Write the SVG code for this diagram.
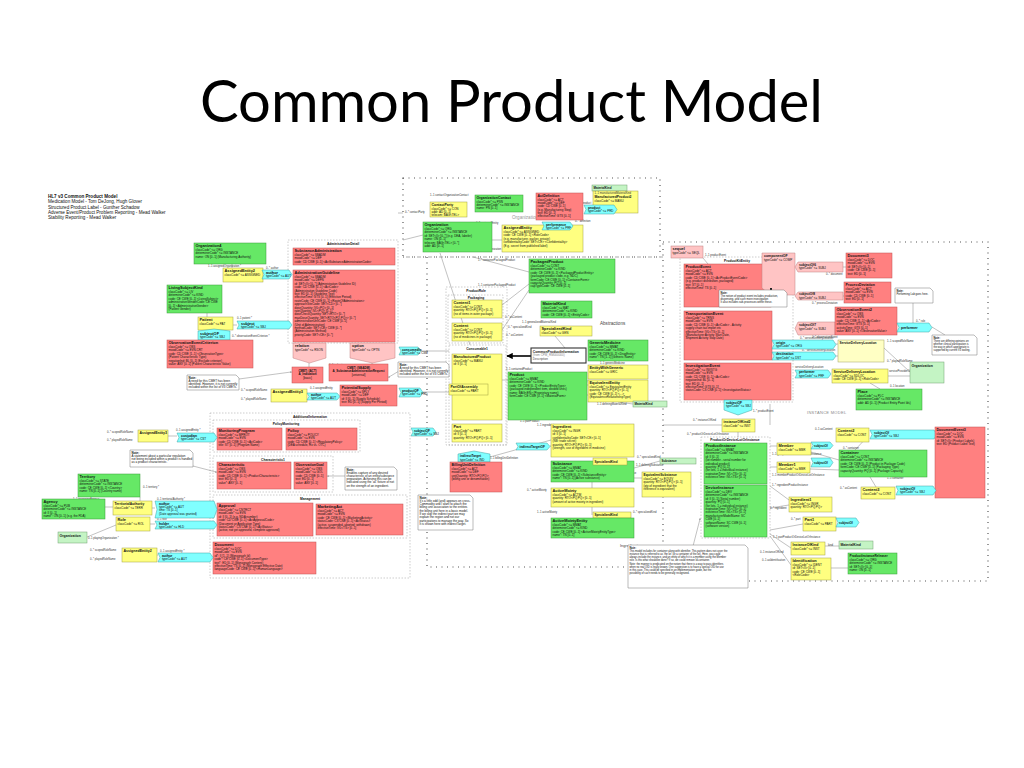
<svg xmlns="http://www.w3.org/2000/svg" width="1024" height="768" viewBox="0 0 1024 768">
<style>
text{font-family:"Liberation Sans",Arial,sans-serif;fill:#111}
.t{font-size:3px}
.h{font-size:3.9px;font-weight:bold}
.l{font-size:2.7px;fill:#333}
.r{fill:#ff8080;stroke:#c05050;stroke-width:.5}
.g{fill:#66e866;stroke:#3a9a3a;stroke-width:.5}
.y{fill:#ffff80;stroke:#a0a040;stroke-width:.5}
.c{fill:#80ffff;stroke:#40a0a0;stroke-width:.5}
.p{fill:#ffc4c4;stroke:#c08080;stroke-width:.5}
.lg{fill:#c4f4c4;stroke:#70a070;stroke-width:.5}
.ly{fill:#ffffc4;stroke:#a0a060;stroke-width:.5}
.n{fill:#fff;stroke:#777;stroke-width:.5}
.box{fill:none;stroke:#999;stroke-width:.5;stroke-dasharray:1.5 1.5}
.dot{fill:none;stroke:#555;stroke-width:1.2;stroke-dasharray:1 4.5}
.k{fill:none;stroke:#777;stroke-width:.45}
.ct{font-size:3.3px;font-weight:bold;text-anchor:middle}
.fade{fill:#9a9a9a;font-size:5px}
</style>
<defs>
<marker id="dotm" viewBox="0 0 4 4" refX="2" refY="2" markerWidth="3" markerHeight="3"><circle cx="2" cy="2" r="1.6" fill="#222"/></marker>
<marker id="arr" viewBox="0 0 10 10" refX="9" refY="5" markerWidth="4" markerHeight="4" orient="auto"><path d="M0,0L10,5L0,10z" fill="#000"/></marker>
</defs>
<rect width="1024" height="768" fill="#fff"/>

<text x="200" y="122" font-family="Lato,'Open Sans',sans-serif" font-size="58" textLength="623" lengthAdjust="spacingAndGlyphs" style="font-family:Lato,'Open Sans',sans-serif;fill:#000">Common Product Model</text>

<g id="header">
<text x="48" y="198" style="font-size:4.6px;font-weight:bold">HL7 v3 Common Product  Model</text>
<text x="48" y="203.3" style="font-size:4.6px">Medication Model - Tom DeJong, Hugh Glover</text>
<text x="48" y="208.6" style="font-size:4.6px">Structured Product Label - Gunther Schadow</text>
<text x="48" y="213.9" style="font-size:4.6px">Adverse Event/Product Problem Reporting - Mead Walker</text>
<text x="48" y="219.2" style="font-size:4.6px">Stability Reporting - Mead Walker</text>
</g>

<!-- containers -->
<g id="containers">
<rect class="dot" x="403" y="178" width="257" height="79"/>
<path class="dot" d="M427 257V567H663M403 257H663M663 242H988V581H663V242"/>
<rect class="box" x="288" y="240" width="110" height="103"/>
<text class="ct" x="343" y="245">AdministrationDetail</text>
<rect class="box" x="446" y="287" width="61" height="158"/>
<text class="ct" x="476" y="292">ProductRole</text>
<rect class="box" x="448" y="295" width="55" height="48"/>
<text class="ct" x="476" y="299">Packaging</text>
<rect class="box" x="449" y="345" width="57" height="100"/>
<text class="ct" x="477" y="350">Consumable1</text>
<rect class="box" x="210" y="413" width="200" height="165"/>
<text class="ct" x="310" y="417.5">AdditionalInformation</text>
<rect class="box" x="213" y="420" width="147" height="32"/>
<text class="ct" x="286" y="425">PolicyMonitoring</text>
<rect class="box" x="213" y="456" width="120" height="36"/>
<text class="ct" x="273" y="460.5">Characteristic1</text>
<rect class="box" x="213" y="495" width="194" height="43"/>
<text class="ct" x="310" y="499.5">Management</text>
<rect class="box" x="680" y="257" width="113" height="145"/>
<text class="ct" x="737" y="261.5">ProductKitEntity</text>
<rect class="box" x="701" y="437" width="69" height="101"/>
<text class="ct" x="735" y="441">ProductOrDeviceLotOrInstance</text>
<text class="fade" x="512" y="219" style="font-size:4.6px">Organization</text>
<text x="600" y="325" style="font-size:4.6px;fill:#444">Abstractions</text>
<text class="fade" x="519" y="412" style="font-size:5px;fill:#7aa07a">Product Kind Model</text>
<text x="807" y="414" style="font-size:4px;fill:#888;letter-spacing:.3px">INSTANCE MODEL</text>
<text x="620" y="547" style="font-size:4px;fill:#444">Ingredients</text>
</g>

<!-- connectors -->
<g id="connectors">
<path class="k" d="M232 264V268M207 313V317M233 325H237M214 330V340M309 363V367M372 363V364M421 351H449M423 392H449M473 257L529 272M502 305L529 284M502 330L529 290M555 336L565 348M440 253L470 345M502 380H508M587 385H588M587 395H588M618 402L633 404M550 446H551M490 457L551 440M593 465L592 461M634 468L660 461M634 478H642M592 482V488M592 507V515M613 518L613 515"/>
<path class="k" d="M140 497V501M105 507H113M116 525L87 537M152 508H155M150 524H155M168 436H177M157 555H158M403 213H398M423 235L403 240M492 240H502"/>
<path class="k" d="M703 258L708 264M771 270L762 272M843 267H846M843 296H844M913 303V323M932 327L945 335M836 344H838M836 356H838M884 348L910 372M888 376H910M870 383L880 389M738 400V415M738 432V437M663 425H722M770 446H777M770 467H777M811 452L839 460M810 469L839 470M869 435L855 450M870 477L876 487M770 486L789 500M770 508L789 505M770 530L803 524M770 534L791 548M770 536L791 565M825 546H839M831 568H848M770 404L770 425"/>
<path d="M531 356H507" stroke="#000" stroke-width="1.6" marker-end="url(#arr)"/>
<path class="k" d="M239 379L291 372" marker-end="url(#dotm)"/>
<path class="k" d="M193 466L216 472" marker-end="url(#dotm)"/>
<path class="k" d="M345 476H328" marker-end="url(#dotm)"/>
<path class="k" d="M399 371L389 377" marker-end="url(#dotm)"/>
<path class="k" d="M692 550L700 519" marker-end="url(#dotm)"/>
<text class="l" x="208" y="266.5">1..1 assignedOrganization *</text>
<text class="l" x="266" y="268.5">0..* author</text>
<text class="l" x="237" y="319">0..1 patient *</text>
<text class="l" x="232" y="337">0..* observationEventCriterion *</text>
<text class="l" x="329" y="366">0..1 indication</text>
<text class="l" x="241" y="391">0..* scopedRoleName</text>
<text class="l" x="241" y="400">0..* playedRoleName</text>
<text class="l" x="310" y="389">0..1 assignedEntity</text>
<text class="l" x="107" y="433">0..* scopedRoleName</text>
<text class="l" x="107" y="441">0..* playedRoleName</text>
<text class="l" x="176" y="431">0..1 assignedEntity *</text>
<text class="l" x="143" y="488">0..1 territory *</text>
<text class="l" x="73" y="500">1..1 governingAgency</text>
<text class="l" x="157" y="499.5">0..1 territorialAuthority *</text>
<text class="l" x="157" y="520">0..1 role</text>
<text class="l" x="88" y="539">0..1 playingOrganization *</text>
<text class="l" x="90" y="551">0..* scopedRoleName</text>
<text class="l" x="90" y="560">0..* playedRoleName</text>
<text class="l" x="160" y="551.5">0..1 assignedEntity *</text>
<text class="l" x="430" y="196">1..1 contactOrganizationContact</text>
<text class="l" x="405" y="213">0..* contactParty</text>
<text class="l" x="476" y="224">0..* assignedEntity</text>
<text class="l" x="470" y="250">1..1 assignedOrganization</text>
<text class="l" x="577" y="204">0..1 product</text>
<text class="l" x="575" y="221.5">0..* definition</text>
<text class="l" x="478" y="261">1..* containerPackagedProduct</text>
<text class="l" x="478" y="286">1..1 containerPackagedProduct</text>
<text class="l" x="505" y="318">0..* asContent</text>
<text class="l" x="522" y="323">1..1 generalizedMaterialKind</text>
<text class="l" x="508" y="328">0..* specializedKind</text>
<text class="l" x="506" y="336">0..* asContent</text>
<text class="l" x="506" y="370">1..1 containedProduct</text>
<text class="l" x="470" y="400">0..* asPartOfAssembly</text>
<text class="l" x="478" y="407">1..1 wholeProduct</text>
<text class="l" x="557" y="376">1..1 asSpecializedKind</text>
<text class="l" x="560" y="382">0..1 asEquivalentEntity</text>
<text class="l" x="600" y="363.5">1..1 genericMedicine</text>
<text class="l" x="597" y="405">1..1 definingMaterialKind</text>
<text class="l" x="520" y="422">1..1 partProduct</text>
<text class="l" x="537" y="426">1..1 ingredient</text>
<text class="l" x="490" y="459">1..1 billingUnitDefinition</text>
<text class="l" x="637" y="458">0..* specializedKind</text>
<text class="l" x="636" y="466">1..1 definingSubstance</text>
<text class="l" x="603" y="474">1..1 asEquivalentSubstance</text>
<text class="l" x="527" y="491">0..* activeMoiety</text>
<text class="l" x="537" y="513">1..1 activeMoiety</text>
<text class="l" x="633" y="513">0..* specializedKind</text>
<text class="l" x="705" y="256">1..1 productEvent</text>
<text class="l" x="826" y="275">0..* document</text>
<text class="l" x="812" y="304">0..* processDeviation</text>
<text class="l" x="812" y="337.5">0..* observationEvent</text>
<text class="l" x="916" y="321.5">0..* role</text>
<text class="l" x="800" y="338.5">0..* serviceDeliveryLocation</text>
<text class="l" x="802" y="350.5">0..* serviceDeliveryLocation</text>
<text class="l" x="887" y="342">1..1 scopedRoleName</text>
<text class="l" x="887" y="362">0..* playedRoleName</text>
<text class="l" x="795" y="368">serviceDeliveryLocation</text>
<text class="l" x="889" y="372">serviceProviderOrg</text>
<text class="l" x="890" y="387">0..1 location</text>
<text class="l" x="753" y="411.5">1..* productEvent</text>
<text class="l" x="693" y="421">0..* instanceOfKind</text>
<text class="l" x="687" y="435">0..* productOrDeviceLotOrInstance</text>
<text class="l" x="815" y="430">0..1 asContent</text>
<text class="l" x="772" y="455">1..1 groupProductOrDeviceLotOrInstance</text>
<text class="l" x="772" y="476">1..1 memberProductOrDeviceLotOrInstance</text>
<text class="l" x="843" y="449">0..* container</text>
<text class="l" x="887" y="479">1..1 container</text>
<text class="l" x="840" y="489">0..* asContent</text>
<text class="l" x="772" y="486">1..* ingredientProductInstance</text>
<text class="l" x="770" y="509">0..* ingredient</text>
<text class="l" x="791" y="520">0..* part</text>
<text class="l" x="773" y="538">1..1 partProductOrDeviceLotOrInstance</text>
<text class="l" x="760" y="553">0..1 instanceOfKind</text>
<text class="l" x="762" y="560.5">0..1 asIdentification</text>
<text class="l" x="828" y="546">kind</text>
</g>

<!-- LEFT / ADMINISTRATION -->
<g id="organization4"><rect class="g" x="194" y="243" width="72" height="21"/><text class="t" x="195.5" y="247.3"><tspan class="h">Organization4</tspan><tspan x="195.5" dy="3.6">classCode* &lt;= ORG</tspan><tspan x="195.5" dy="3.4">determinerCode* &lt;= INSTANCE</tspan><tspan x="195.5" dy="3.4">name: ON [0..1] (Manufacturing Authority)</tspan></text></g>
<g id="assignedEntity2a"><rect class="y" x="223" y="268" width="40" height="14"/><text class="t" x="224.5" y="272.3"><tspan class="h">AssignedEntity2</tspan><tspan x="224.5" dy="3.6">classCode* &lt;= ASSIGNED</tspan></text></g>
<g id="author1"><polygon class="c" points="262,270 289,270 292,274.5 289,279 262,279 264,274.5"/><text class="t" x="266" y="273.8"><tspan class="h">author</tspan><tspan x="266" dy="3.4">typeCode* &lt;= AUT</tspan></text></g>
<g id="substanceAdministration"><rect class="r" x="293" y="248" width="102" height="17"/><text class="t" x="294.5" y="252.3"><tspan class="h">SubstanceAdministration</tspan><tspan x="294.5" dy="3.6">classCode* &lt;= SBADM</tspan><tspan x="294.5" dy="3.4">moodCode* &lt;= DEF</tspan><tspan x="294.5" dy="3.4">code: CD CWE [0..1] &lt;ActSubstanceAdministrationCode&gt;</tspan></text></g>
<g id="administrationGuideline"><rect class="r" x="293" y="270" width="102" height="72"/><text class="t" x="294.5" y="274.3"><tspan class="h">AdministrationGuideline</tspan><tspan x="294.5" dy="3.6">classCode* &lt;= SBADM</tspan><tspan x="294.5" dy="3.4">moodCode* &lt;= DEFN</tspan><tspan x="294.5" dy="3.4">id: SET&lt;II&gt; [0..*] (Administration Guideline ID)</tspan><tspan x="294.5" dy="3.4">code: CD CWE [0..1] &lt;ActCode&gt;</tspan><tspan x="294.5" dy="3.4">(Administration Guideline Code)</tspan><tspan x="294.5" dy="3.4">text: ED [0..1] (Guideline Text)</tspan><tspan x="294.5" dy="3.4">effectiveTime: GTS [0..1] (Effective Period)</tspan><tspan x="294.5" dy="3.4">routeCode: CE CWE [0..1] &lt;RouteOfAdministration&gt;</tspan><tspan x="294.5" dy="3.4">approachSiteCode: SET&lt;CD&gt; [0..*]</tspan><tspan x="294.5" dy="3.4">doseQuantity: IVL&lt;PQ&gt; [0..1]</tspan><tspan x="294.5" dy="3.4">rateQuantity: IVL&lt;PQ&gt; [0..1]</tspan><tspan x="294.5" dy="3.4">doseCheckQuantity: SET&lt;RTO&gt; [0..*]</tspan><tspan x="294.5" dy="3.4">maxDoseQuantity: SET&lt;RTO&lt;PQ,PQ&gt;&gt; [0..*]</tspan><tspan x="294.5" dy="3.4">administrationUnitCode: CE CWE [0..1]</tspan><tspan x="294.5" dy="3.4">(Unit of Administration)</tspan><tspan x="294.5" dy="3.4">methodCode: SET&lt;CE&gt; CWE [0..*]</tspan><tspan x="294.5" dy="3.4">(Administration Method)</tspan><tspan x="294.5" dy="3.4">priorityCode: SET&lt;CE&gt; [0..*]</tspan></text></g>
<g id="livingSubjectKind"><rect class="g" x="167" y="285" width="55" height="28"/><text class="t" x="168.5" y="289.3"><tspan class="h">LivingSubjectKind</tspan><tspan x="168.5" dy="3.6">classCode* &lt;= LIV</tspan><tspan x="168.5" dy="3.4">determinerCode* &lt;= KIND</tspan><tspan x="168.5" dy="3.4">code: CE CWE [0..1] &lt;LivingSubject&gt;</tspan><tspan x="168.5" dy="3.4">administrativeGenderCode: CE CWE</tspan><tspan x="168.5" dy="3.4">[0..1] &lt;AdministrativeGender&gt;</tspan><tspan x="168.5" dy="3.4">(Patient Gender)</tspan></text></g>
<g id="patient"><rect class="y" x="198" y="317" width="35" height="13"/><text class="t" x="199.5" y="321.3"><tspan class="h">Patient</tspan><tspan x="199.5" dy="3.6">classCode* &lt;= PAT</tspan></text></g>
<g id="subject1"><polygon class="c" points="237,321 289,321 292,325 289,329 237,329 239,325"/><text class="t" x="241" y="324.5"><tspan class="h">subject</tspan><tspan x="241" dy="3.3">typeCode* &lt;= SBJ</tspan></text></g>
<g id="subjectOF1"><polygon class="c" points="198,331 214,329 230,331 230,340 198,340"/><text class="t" x="200" y="334.5"><tspan class="h">subjectOF</tspan><tspan x="200" dy="3.5">typeCode* &lt;= SBJ</tspan></text></g>
<g id="observationEventCriterion"><rect class="r" x="167" y="340" width="86" height="28"/><text class="t" x="168.5" y="344.3"><tspan class="h">ObservationEventCriterion</tspan><tspan x="168.5" dy="3.6">classCode* &lt;= OBS</tspan><tspan x="168.5" dy="3.4">moodCode* &lt;= EVN.CRT</tspan><tspan x="168.5" dy="3.4">code: CD CWE [1..1] &lt;ObservationType&gt;</tspan><tspan x="168.5" dy="3.4">(Patient Characteristic Type)</tspan><tspan x="168.5" dy="3.4">negationInd: BL [0..1] (Exclude criterion)</tspan><tspan x="168.5" dy="3.4">value: ANY [0..1] (Patient Characteristic Value)</tspan></text></g>
<g id="relation"><polygon class="p" points="293,343 326,343 326,358 309.5,363 293,358"/><text class="t" x="295" y="347.3"><tspan class="h">relation</tspan><tspan x="295" dy="3.6">typeCode* &lt;= RSON</tspan></text></g>
<g id="option"><polygon class="p" points="350,343 395,343 395,358 372.5,363 350,358"/><text class="t" x="352" y="347.3"><tspan class="h">option</tspan><tspan x="352" dy="3.6">typeCode* &lt;= OPTN</tspan></text></g>
<g id="cmetIndication"><rect class="r" x="292" y="367" width="31" height="16"/><text class="t" x="307.5" y="371.5" text-anchor="middle"><tspan style="font-weight:bold">CMET: (ACT)</tspan><tspan x="307.5" dy="3.5" style="font-weight:bold">A_Indication</tspan><tspan x="307.5" dy="3.5">[basic]</tspan></text></g>
<g id="cmetRequest"><rect class="r" x="329" y="364" width="59" height="17"/><text class="t" x="358.5" y="368.5" text-anchor="middle"><tspan style="font-weight:bold">CMET: (SBADM)</tspan><tspan x="358.5" dy="3.5" style="font-weight:bold">A_SubstanceAdministrationRequest</tspan><tspan x="358.5" dy="3.5">[universal]</tspan></text></g>
<g id="note1"><path class="n" d="M187 375H236L239 378V390H187Z"/><text class="t" x="188.5" y="378.5"><tspan style="font-weight:bold">Note:</tspan><tspan x="188.5" dy="3.3">A need for this CMET has been</tspan><tspan x="188.5" dy="3.3">identified. However, it is not currently</tspan><tspan x="188.5" dy="3.3">included within the list of V3 CMETs.</tspan></text></g>
<g id="assignedEntity3a"><rect class="y" x="271" y="389" width="36" height="13"/><text class="t" x="272.5" y="393.3"><tspan class="h">AssignedEntity3</tspan></text></g>
<g id="author2"><polygon class="c" points="307,393 337,393 340,396.5 337,400 307,400 309,396.5"/><text class="t" x="311" y="396"><tspan class="h" style="font-size:3.3px">author</tspan><tspan x="311" dy="3.1">typeCode* &lt;= AUT</tspan></text></g>
<g id="potentialSupply"><rect class="r" x="340" y="385" width="57" height="21"/><text class="t" x="341.5" y="389.3"><tspan class="h">PotentialSupply</tspan><tspan x="341.5" dy="3.6">classCode* &lt;= SPLY</tspan><tspan x="341.5" dy="3.4">moodCode* &lt;= DEF</tspan><tspan x="341.5" dy="3.4">id: II [0..1] (Supply Schedule)</tspan><tspan x="341.5" dy="3.4">text: ED [0..1] (Supply Per Period)</tspan></text></g>
<g id="consumedIn"><polygon class="c" points="399,347 418,347 421,351 418,355 399,355 401,351"/><text class="t" x="402" y="350.5"><tspan class="h" style="font-size:3.3px">consumedIn</tspan><tspan x="402" dy="3.2">typeCode* &lt;= CSM</tspan></text></g>
<g id="note2"><path class="n" d="M398 362H446L449 365V377H398Z"/><text class="t" x="399.5" y="365.5"><tspan style="font-weight:bold">Note:</tspan><tspan x="399.5" dy="3.3">A need for this CMET has been</tspan><tspan x="399.5" dy="3.3">identified. However, it is not currently</tspan><tspan x="399.5" dy="3.3">included within the list of V3 CMETs.</tspan></text></g>
<g id="productOF"><polygon class="c" points="399,388 420,388 423,392.5 420,397 399,397 401,392.5"/><text class="t" x="402" y="391.5"><tspan class="h" style="font-size:3.3px">productOF</tspan><tspan x="402" dy="3.3">typeCode* &lt;= PRD</tspan></text></g>
<g id="subjectOF2"><polygon class="c" points="411,428 433,428 436,432 433,436 411,436 413,432"/><text class="t" x="414" y="431.5"><tspan class="h" style="font-size:3.3px">subjectOF</tspan><tspan x="414" dy="3.3">typeCode* &lt;= SBJ</tspan></text></g>

<!-- ADDITIONAL INFORMATION -->
<g id="monitoringProgram"><rect class="r" x="217" y="428" width="65" height="22"/><text class="t" x="218.5" y="432.3"><tspan class="h">MonitoringProgram</tspan><tspan x="218.5" dy="3.6">classCode* &lt;= MPROT</tspan><tspan x="218.5" dy="3.4">moodCode* &lt;= EVN</tspan><tspan x="218.5" dy="3.4">code: CD CWE [0..1] &lt;ActCode&gt;</tspan><tspan x="218.5" dy="3.4">title: ST [0..1] (Program Name)</tspan></text></g>
<g id="policy"><rect class="r" x="286" y="428" width="71" height="22"/><text class="t" x="287.5" y="432.3"><tspan class="h">Policy</tspan><tspan x="287.5" dy="3.6">classCode* &lt;= POLICY</tspan><tspan x="287.5" dy="3.4">moodCode* &lt;= EVN</tspan><tspan x="287.5" dy="3.4">code: CD CWE [0..1] &lt;RegulatoryPolicy&gt;</tspan><tspan x="287.5" dy="3.4">(DEA schedule, Rx vs. OTC)</tspan></text></g>
<g id="assignedEntity3b"><rect class="y" x="138" y="430" width="30" height="12"/><text class="t" x="139.5" y="434.3"><tspan class="h" style="font-size:3.5px">AssignedEntity3</tspan></text></g>
<g id="custodian"><polygon class="c" points="177,433 214,433 217,437.5 214,442 177,442 179,437.5"/><text class="t" x="181" y="436.5"><tspan class="h" style="font-size:3.4px">custodian</tspan><tspan x="181" dy="3.4">typeCode* &lt;= CST</tspan></text></g>
<g id="note3"><path class="n" d="M130 450H190L193 453V467H130Z"/><text class="t" x="131.5" y="453.5"><tspan style="font-weight:bold">Note:</tspan><tspan x="131.5" dy="3.3">A statement about a particular regulation</tspan><tspan x="131.5" dy="3.3">not being included within a product is handled</tspan><tspan x="131.5" dy="3.3">as a product characteristic.</tspan></text></g>
<g id="characteristic"><rect class="r" x="217" y="462" width="74" height="27"/><text class="t" x="218.5" y="466.3"><tspan class="h">Characteristic</tspan><tspan x="218.5" dy="3.6">classCode* &lt;= OBS</tspan><tspan x="218.5" dy="3.4">moodCode* &lt;= EVN</tspan><tspan x="218.5" dy="3.4">code: CD CWE [0..1] &lt;ProductCharacteristic&gt;</tspan><tspan x="218.5" dy="3.4">text: ED [0..1]</tspan><tspan x="218.5" dy="3.4">value*: ANY [0..1]</tspan></text></g>
<g id="observationGoal"><rect class="r" x="294" y="462" width="33" height="27"/><text class="t" x="295.5" y="466.3"><tspan class="h" style="font-size:3.5px">ObservationGoal</tspan><tspan x="295.5" dy="3.6">classCode* &lt;= OBS</tspan><tspan x="295.5" dy="3.4">moodCode* &lt;= GOL</tspan><tspan x="295.5" dy="3.4">code: CD CWE [0..1]</tspan><tspan x="295.5" dy="3.4">text: ED [0..1]</tspan><tspan x="295.5" dy="3.4">value: ANY [0..1]</tspan></text></g>
<g id="note4"><path class="n" d="M345 467H394L397 470V490H345Z"/><text class="t" x="346.5" y="470.5"><tspan style="font-weight:bold">Note:</tspan><tspan x="346.5" dy="3.2">Enables capture of any desired</tspan><tspan x="346.5" dy="3.2">characteristic of an entity/substance</tspan><tspan x="346.5" dy="3.2">preparation. Achieving this can be</tspan><tspan x="346.5" dy="3.2">indicated using the 'as' fixture of not</tspan><tspan x="346.5" dy="3.2">on the strength of an ingredient.</tspan></text></g>
<g id="approval"><rect class="r" x="217" y="503" width="96" height="33"/><text class="t" x="218.5" y="507.3"><tspan class="h">Approval</tspan><tspan x="218.5" dy="3.6">classCode* &lt;= CNTRCT</tspan><tspan x="218.5" dy="3.4">moodCode* &lt;= EVN</tspan><tspan x="218.5" dy="3.4">id: II [0..1] (e.g. NDA number)</tspan><tspan x="218.5" dy="3.4">code: CD CWE [0..1] &lt;ActApprovalCode&gt;</tspan><tspan x="218.5" dy="3.4">(Document or Application Type)</tspan><tspan x="218.5" dy="3.4">statusCode*: CS CNE [0..1] &lt;ActStatus&gt;</tspan><tspan x="218.5" dy="3.4">(active, not yet approved, complete approved)</tspan></text></g>
<g id="marketingAct"><rect class="r" x="316" y="504" width="87" height="31"/><text class="t" x="317.5" y="508.3"><tspan class="h">MarketingAct</tspan><tspan x="317.5" dy="3.6">classCode* &lt;= ACT</tspan><tspan x="317.5" dy="3.4">moodCode* &lt;= EVN</tspan><tspan x="317.5" dy="3.4">code: CE CWE [0..1] &lt;MarketingActivity&gt;</tspan><tspan x="317.5" dy="3.4">statusCode: CS CNE [0..1] &lt;ActStatus&gt;</tspan><tspan x="317.5" dy="3.4">(active, suspended, aborted: withdrawn)</tspan><tspan x="317.5" dy="3.4">effectiveTime: IVL&lt;TS&gt; [0..1]</tspan></text></g>
<g id="document"><rect class="r" x="213" y="542" width="103" height="32"/><text class="t" x="214.5" y="546.3"><tspan class="h">Document</tspan><tspan x="214.5" dy="3.6">classCode* &lt;= DOC</tspan><tspan x="214.5" dy="3.4">moodCode* &lt;= EVN</tspan><tspan x="214.5" dy="3.4">id*: II [1..1] (Monograph Id)</tspan><tspan x="214.5" dy="3.4">code*: CE CWE [0..1] &lt;DocumentType&gt;</tspan><tspan x="214.5" dy="3.4">text*: ED [0..1] (Monograph Content)</tspan><tspan x="214.5" dy="3.4">effectiveTime: TS [0..1] (Monograph Effective Date)</tspan><tspan x="214.5" dy="3.4">languageCode: CE CWE [0..1] &lt;HumanLanguage&gt;</tspan></text></g>
<g id="territory"><rect class="g" x="78" y="474" width="62" height="23"/><text class="t" x="79.5" y="478.3"><tspan class="h">Territory</tspan><tspan x="79.5" dy="3.6">classCode* &lt;= STATE</tspan><tspan x="79.5" dy="3.4">determinerCode* &lt;= INSTANCE</tspan><tspan x="79.5" dy="3.4">code: CE CWE [0..1] &lt;Country&gt;</tspan><tspan x="79.5" dy="3.4">name: TN [0..1] (Country name)</tspan></text></g>
<g id="agency"><rect class="g" x="42" y="499" width="63" height="20"/><text class="t" x="43.5" y="503.3"><tspan class="h">Agency</tspan><tspan x="43.5" dy="3.6">classCode* &lt;= PUB</tspan><tspan x="43.5" dy="3.4">determinerCode* &lt;= INSTANCE</tspan><tspan x="43.5" dy="3.4">id: II [0..1]</tspan><tspan x="43.5" dy="3.4">name*: ON [0..1] (e.g. the FDA)</tspan></text></g>
<g id="territorialAuthority"><rect class="y" x="113" y="501" width="39" height="14"/><text class="t" x="114.5" y="505.3"><tspan class="h" style="font-size:3.3px">TerritorialAuthority</tspan><tspan x="114.5" dy="3.6">classCode* &lt;= TERR</tspan></text></g>
<g id="author3"><polygon class="c" points="155,501 214,501 217,509.5 214,518 155,518 157,509.5"/><text class="t" x="159" y="504.5"><tspan class="h" style="font-size:3.4px">author</tspan><tspan x="159" dy="3.4">typeCode* &lt;= AUT</tspan><tspan x="159" dy="3.3">time: TS [0..1]</tspan><tspan x="159" dy="3.3">(Date approval was granted)</tspan></text></g>
<g id="role"><rect class="y" x="116" y="517" width="34" height="14"/><text class="t" x="117.5" y="521.3"><tspan class="h">Role</tspan><tspan x="117.5" dy="3.6">classCode* &lt;= ROL</tspan></text></g>
<g id="holder"><polygon class="c" points="155,521 214,521 217,525 214,529 155,529 157,525"/><text class="t" x="159" y="524.5"><tspan class="h" style="font-size:3.3px">holder</tspan><tspan x="159" dy="3.3">typeCode* &lt;= HLD</tspan></text></g>
<g id="organization5"><rect class="lg" x="58" y="532" width="29" height="11"/><text class="t" x="59.5" y="536.5"><tspan class="h" style="font-size:3.5px">Organization</tspan></text></g>
<g id="assignedEntity2b"><rect class="y" x="122" y="548" width="35" height="14"/><text class="t" x="123.5" y="552.3"><tspan class="h" style="font-size:3.6px">AssignedEntity2</tspan></text></g>
<g id="author4"><polygon class="c" points="158,553 210,553 213,557.5 210,562 158,562 160,557.5"/><text class="t" x="162" y="556.5"><tspan class="h" style="font-size:3.3px">author</tspan><tspan x="162" dy="3.3">typeCode* &lt;= AUT</tspan></text></g>

<!-- ORGANIZATION AREA -->
<g id="contactParty"><rect class="y" x="430" y="202" width="37" height="15"/><text class="t" x="431.5" y="206.3"><tspan class="h" style="font-size:3.5px">ContactParty</tspan><tspan x="431.5" dy="3.4">classCode* &lt;= CON</tspan><tspan x="431.5" dy="3.2">addr: AD [0..1]</tspan><tspan x="431.5" dy="3.2">telecom: BAG&lt;TEL&gt;</tspan></text></g>
<g id="organizationContact"><rect class="g" x="475" y="195" width="48" height="17"/><text class="t" x="476.5" y="199.3"><tspan class="h" style="font-size:3.5px">OrganizationContact</tspan><tspan x="476.5" dy="3.5">classCode* &lt;= PSN</tspan><tspan x="476.5" dy="3.3">determinerCode* &lt;= INSTANCE</tspan><tspan x="476.5" dy="3.3">name: PN [0..1]</tspan></text></g>
<g id="actDefinition"><rect class="r" x="536" y="193" width="47" height="27"/><text class="t" x="537.5" y="197.3"><tspan class="h" style="font-size:3.5px">ActDefinition</tspan><tspan x="537.5" dy="3.5">classCode* &lt;= ACT</tspan><tspan x="537.5" dy="3.3">moodCode* &lt;= DEF</tspan><tspan x="537.5" dy="3.3">code: CD CWE [0..1]</tspan><tspan x="537.5" dy="3.3">(e.g. Manufacturing Step)</tspan><tspan x="537.5" dy="3.3">text: ED [0..1]</tspan><tspan x="537.5" dy="3.3">effectiveTime: GTS [0..1]</tspan></text></g>
<g id="materialKind1"><rect class="lg" x="592" y="185" width="35" height="6"/><text class="t" x="593.5" y="189.2"><tspan style="font-weight:bold">MaterialKind</tspan></text></g>
<g id="manufacturedProduct2"><rect class="y" x="593" y="191" width="45" height="22"/><text class="t" x="594.5" y="194.3"><tspan class="l">1..1 manufacturedMaterialKind</tspan><tspan x="594.5" dy="3.8" class="h" style="font-size:3.4px">ManufacturedProduct2</tspan><tspan x="594.5" dy="3.4">classCode* &lt;= MANU</tspan></text></g>
<g id="product2"><polygon class="c" points="584,205 614,205 617,209.5 614,214 584,214 586,209.5"/><text class="t" x="588" y="208.5"><tspan class="h" style="font-size:3.3px">product</tspan><tspan x="588" dy="3.3">typeCode* &lt;= PRD</tspan></text></g>
<g id="organization"><rect class="g" x="423" y="222" width="69" height="30"/><text class="t" x="424.5" y="226.3"><tspan class="h">Organization</tspan><tspan x="424.5" dy="3.6">classCode* &lt;= ORG</tspan><tspan x="424.5" dy="3.4">determinerCode* &lt;= INSTANCE</tspan><tspan x="424.5" dy="3.4">id: SET&lt;II&gt; [0..*] (e.g. DEA, labeler)</tspan><tspan x="424.5" dy="3.4">name: ON [0..1]</tspan><tspan x="424.5" dy="3.4">telecom: BAG&lt;TEL&gt; [0..*]</tspan><tspan x="424.5" dy="3.4">addr: AD [0..1]</tspan></text></g>
<g id="assignedEntity"><rect class="y" x="502" y="225" width="81" height="27"/><text class="t" x="503.5" y="229.3"><tspan class="h">AssignedEntity</tspan><tspan x="503.5" dy="3.6">classCode* &lt;= ASSIGNED</tspan><tspan x="503.5" dy="3.4">code: CE CWE [0..1] &lt;RoleCode&gt;</tspan><tspan x="503.5" dy="3.4">(e.g. manufacturer, packer, private)</tspan><tspan x="503.5" dy="3.4">confidentialityCode: SET&lt;CE&gt; &lt;Confidentiality&gt;</tspan><tspan x="503.5" dy="3.4">(E.g. secret from published label)</tspan></text></g>
<g id="performance"><polygon class="c" points="542,222 570,222 573,226 570,230 542,230 544,226"/><text class="t" x="546" y="225.5"><tspan class="h" style="font-size:3.3px">performance</tspan><tspan x="546" dy="3.2">typeCode* &lt;= PRF</tspan></text></g>

<!-- ABSTRACTIONS -->
<g id="packagedProduct"><rect class="g" x="529" y="259" width="86" height="34"/><text class="t" x="530.5" y="263.3"><tspan class="h">PackagedProduct</tspan><tspan x="530.5" dy="3.6">classCode* &lt;= CONT</tspan><tspan x="530.5" dy="3.4">determinerCode* &lt;= KIND</tspan><tspan x="530.5" dy="3.4">code: CE CWE [0..1] &lt;PackagedProductEntity&gt;</tspan><tspan x="530.5" dy="3.4">(packaged product code, e.g. NDC)</tspan><tspan x="530.5" dy="3.4">formCode: CE CWE [0..1] &lt;ContainerForm&gt;</tspan><tspan x="530.5" dy="3.4">capacityQuantity: PQ [0..1]</tspan><tspan x="530.5" dy="3.4">capTypeCode: CE CWE [0..1]</tspan></text></g>
<g id="content1"><rect class="y" x="452" y="300" width="50" height="18"/><text class="t" x="453.5" y="304.3"><tspan class="h">Content1</tspan><tspan x="453.5" dy="3.6">classCode* &lt;= CONT</tspan><tspan x="453.5" dy="3.4">quantity: RTO&lt;PQ,PQ&gt; [0..1]</tspan><tspan x="453.5" dy="3.4">(no of items in outer package)</tspan></text></g>
<g id="content"><rect class="y" x="452" y="323" width="50" height="18"/><text class="t" x="453.5" y="327.3"><tspan class="h">Content</tspan><tspan x="453.5" dy="3.6">classCode* &lt;= CONT</tspan><tspan x="453.5" dy="3.4">quantity: RTO&lt;PQ,PQ&gt; [0..1]</tspan><tspan x="453.5" dy="3.4">(no of medicines in package)</tspan></text></g>
<g id="materialKind2"><rect class="g" x="541" y="301" width="51" height="17"/><text class="t" x="542.5" y="305.3"><tspan class="h">MaterialKind</tspan><tspan x="542.5" dy="3.6">classCode* &lt;= MAT</tspan><tspan x="542.5" dy="3.4">determinerCode* &lt;= KIND</tspan><tspan x="542.5" dy="3.4">code: CE CWE [0..1] &lt;EntityCode&gt;</tspan></text></g>
<g id="specializedKind1"><rect class="y" x="540" y="326" width="52" height="10"/><text class="t" x="541.5" y="330"><tspan class="h">SpecializedKind</tspan><tspan x="541.5" dy="3.5">classCode* &lt;= GEN</tspan></text></g>
<g id="commonProductInformation"><rect x="531" y="348" width="55" height="15" fill="#fff" stroke="#333" stroke-width="1.1"/><text class="t" x="532.8" y="352.5"><tspan class="h" style="font-size:3.4px">CommonProductInformation</tspan><tspan x="532.8" dy="3.5" style="fill:#888">(from CPM_RM000000)</tspan><tspan x="532.8" dy="3.8" style="fill:#444">Description</tspan></text></g>
<g id="manufacturedProduct"><rect class="y" x="452" y="354" width="50" height="66"/><text class="t" x="453.5" y="358.3"><tspan class="h" style="font-size:3.6px">ManufacturedProduct</tspan><tspan x="453.5" dy="3.6">classCode* &lt;= MANU</tspan><tspan x="453.5" dy="3.4">id: II [0..1]</tspan></text></g>
<g id="partOfAssembly"><rect class="y" x="449" y="384" width="39" height="11"/><text class="t" x="450.5" y="388"><tspan class="h" style="font-size:3.5px">PartOfAssembly</tspan><tspan x="450.5" dy="3.6">classCode* &lt;= PART</tspan></text></g>
<g id="part"><rect class="y" x="452" y="424" width="50" height="18"/><text class="t" x="453.5" y="428.3"><tspan class="h">Part</tspan><tspan x="453.5" dy="3.6">classCode* &lt;= PART</tspan><tspan x="453.5" dy="3.4">id: II [0..1]</tspan><tspan x="453.5" dy="3.4">quantity: RTO&lt;PQ,PQ&gt; [0..1]</tspan></text></g>
<g id="product"><rect class="g" x="508" y="372" width="79" height="48"/><text class="t" x="509.5" y="376.3"><tspan class="h">Product</tspan><tspan x="509.5" dy="3.6">classCode* &lt;= MMAT</tspan><tspan x="509.5" dy="3.4">determinerCode* &lt;= KIND</tspan><tspan x="509.5" dy="3.4">code: CE CWE [0..1] &lt;ProductEntityType&gt;</tspan><tspan x="509.5" dy="3.4">(packaged independent item, divided units)</tspan><tspan x="509.5" dy="3.4">name: BAG&lt;EN&gt; (Proprietary name)</tspan><tspan x="509.5" dy="3.4">formCode: CE CWE [0..1] &lt;MaterialForm&gt;</tspan></text></g>
<g id="genericMedicine"><rect class="g" x="588" y="340" width="60" height="21"/><text class="t" x="589.5" y="344.3"><tspan class="h">GenericMedicine</tspan><tspan x="589.5" dy="3.6">classCode* &lt;= MMAT</tspan><tspan x="589.5" dy="3.4">determinerCode* &lt;= KIND</tspan><tspan x="589.5" dy="3.4">code: CE CWE [0..1] &lt;DrugEntity&gt;</tspan><tspan x="589.5" dy="3.4">name*: TN [1..1] (Generic Name)</tspan></text></g>
<g id="entityWithGeneric"><rect class="y" x="588" y="365" width="60" height="14"/><text class="t" x="589.5" y="369.3"><tspan class="h">EntityWithGeneric</tspan><tspan x="589.5" dy="3.6">classCode* &lt;= GRIC</tspan></text></g>
<g id="equivalentEntity"><rect class="y" x="588" y="380" width="60" height="22"/><text class="t" x="589.5" y="384.3"><tspan class="h">EquivalentEntity</tspan><tspan x="589.5" dy="3.6">classCode* &lt;= EquivalentEntity</tspan><tspan x="589.5" dy="3.4">quantity: RTO&lt;PQ,PQ&gt; [0..1]</tspan><tspan x="589.5" dy="3.4">code: CE CWE [0..1] &lt;...&gt;</tspan><tspan x="589.5" dy="3.4">(EquivalenceRelationshipType)</tspan></text></g>
<g id="materialKind3"><rect class="lg" x="633" y="401" width="34" height="6"/><text class="t" x="634.5" y="405.2"><tspan style="font-weight:bold">MaterialKind</tspan></text></g>
<g id="ingredient"><rect class="y" x="551" y="424" width="83" height="33"/><text class="t" x="552.5" y="428.3"><tspan class="h">Ingredient</tspan><tspan x="552.5" dy="3.6">classCode* &lt;= INGR</tspan><tspan x="552.5" dy="3.4">id: II [0..1]</tspan><tspan x="552.5" dy="3.4">confidentialityCode: SET&lt;CE&gt; [0..1]</tspan><tspan x="552.5" dy="3.4">(NB: trade secret)</tspan><tspan x="552.5" dy="3.4">quantity: RTO&lt;PQ,PQ&gt; [0..1]</tspan><tspan x="552.5" dy="3.4">(strength, use of ingredient in medicine)</tspan></text></g>
<g id="indirectTargetOF"><polygon class="c" points="516,443 547,443 550,446.5 547,450 516,450 518,446.5"/><text class="t" x="519.5" y="447.6"><tspan class="h" style="font-size:3.2px">indirectTargetOF</tspan></text></g>
<g id="indirectTarget"><polygon class="c" points="458,454 474,451 490,454 490,462 458,462"/><text class="t" x="460" y="457.3"><tspan class="h" style="font-size:3.2px">indirectTarget</tspan><tspan x="460" dy="3.4">typeCode* &lt;= IND</tspan></text></g>
<g id="billingUnitDefinition"><rect class="r" x="450" y="462" width="52" height="30"/><text class="t" x="451.5" y="466.3"><tspan class="h" style="font-size:3.5px">BillingUnitDefinition</tspan><tspan x="451.5" dy="3.6">classCode* &lt;= ACT</tspan><tspan x="451.5" dy="3.4">moodCode* &lt;= DEF</tspan><tspan x="451.5" dy="3.4">unitQuantity: RTO&lt;PQ,PQ&gt;</tspan><tspan x="451.5" dy="3.4">(billing unit or denomination)</tspan></text></g>
<g id="note5"><path class="n" d="M418 495H470L473 498V530H418Z"/><text class="t" x="419.5" y="498.5"><tspan style="font-weight:bold">Note:</tspan><tspan x="419.5" dy="3.3">It's a little odd (and) appears on cross-</tspan><tspan x="419.5" dy="3.3">Commodity and I want to attach the</tspan><tspan x="419.5" dy="3.3">billing unit association to the entities</tspan><tspan x="419.5" dy="3.3">the billing unit here in a basic model.</tspan><tspan x="419.5" dy="3.3">If we skip the indirect part we may</tspan><tspan x="419.5" dy="3.3">explain the region and not our</tspan><tspan x="419.5" dy="3.3">participations to manage the way. So</tspan><tspan x="419.5" dy="3.3">it is shown here with indirectTarget.</tspan></text></g>
<g id="substance"><rect class="g" x="551" y="461" width="83" height="21"/><text class="t" x="552.5" y="465.3"><tspan class="h">Substance</tspan><tspan x="552.5" dy="3.6">classCode* &lt;= MMAT</tspan><tspan x="552.5" dy="3.4">determinerCode* &lt;= KIND</tspan><tspan x="552.5" dy="3.4">code: CE CWE [0..1] &lt;SubstanceEntity&gt;</tspan><tspan x="552.5" dy="3.4">name*: TN [0..1] (Active substance)</tspan></text></g>
<g id="specializedKind2"><rect class="y" x="593" y="458" width="34" height="7"/><text class="t" x="594.5" y="462.5"><tspan style="font-weight:bold">SpecializedKind</tspan></text></g>
<g id="substance2"><rect class="lg" x="660" y="458" width="36" height="6"/><text class="t" x="661.5" y="462.2"><tspan style="font-weight:bold">Substance</tspan></text></g>
<g id="equivalentSubstance"><rect class="y" x="642" y="472" width="49" height="25"/><text class="t" x="643.5" y="476.3"><tspan class="h" style="font-size:3.3px">EquivalentSubstance</tspan><tspan x="643.5" dy="3.6">classCode* &lt;= EQUIV</tspan><tspan x="643.5" dy="3.4">quantity: RTO&lt;PQ,PQ&gt; [0..1]</tspan><tspan x="643.5" dy="3.4">(qty of ingredient that the</tspan><tspan x="643.5" dy="3.4">reference is equivalent)</tspan></text></g>
<g id="activeMoiety"><rect class="y" x="551" y="488" width="83" height="19"/><text class="t" x="552.5" y="492.3"><tspan class="h">ActiveMoiety</tspan><tspan x="552.5" dy="3.6">classCode* &lt;= ACTM</tspan><tspan x="552.5" dy="3.4">quantity: RTO&lt;PQ,PQ&gt; [0..1]</tspan><tspan x="552.5" dy="3.4">(amount of active moiety in ingredient)</tspan></text></g>
<g id="specializedKind3"><rect class="y" x="593" y="512" width="38" height="6"/><text class="t" x="594.5" y="516.2"><tspan style="font-weight:bold">SpecializedKind</tspan></text></g>
<g id="activeMoietyEntity"><rect class="g" x="551" y="518" width="83" height="20"/><text class="t" x="552.5" y="522.3"><tspan class="h">ActiveMoietyEntity</tspan><tspan x="552.5" dy="3.6">classCode* &lt;= MMAT</tspan><tspan x="552.5" dy="3.4">determinerCode* &lt;= KIND</tspan><tspan x="552.5" dy="3.4">code: CE CWE [0..1] &lt;ActiveMoietyEntityType&gt;</tspan><tspan x="552.5" dy="3.4">name*: TN [0..1]</tspan></text></g>
<g id="bigNote"><path class="n" d="M628 545H745L748 548V588H628Z"/><text class="t" x="629.5" y="548.5" style="font-size:2.6px"><tspan style="font-weight:bold">Note:</tspan><tspan x="629.5" dy="3">This model includes for container along with identifier. This pattern does not cover the</tspan><tspan x="629.5" dy="3">instance that is referred to as 'the lot' (or a container of the lot). Here, you could</tspan><tspan x="629.5" dy="3">always include the instance, and an entity of which it is a member using the Member</tspan><tspan x="629.5" dy="3">role. Is this what should be done? If so, we could remove Id-container.</tspan><tspan x="629.5" dy="4.5">Note: the manner is predicated on the notion that there is a way to pass identifiers</tspan><tspan x="629.5" dy="3">when no real OID is really known. One suggestion is to have a special OID for use</tspan><tspan x="629.5" dy="3">in this case. This could be specified in an implementation guide, but the</tspan><tspan x="629.5" dy="3">possibility of such needs to be generally recognized.</tspan></text></g>

<!-- INSTANCE MODEL -->
<g id="sequel"><rect class="p" x="671" y="246" width="32" height="12"/><text class="t" x="672.5" y="250.3"><tspan class="h">sequel</tspan><tspan x="672.5" dy="3.6">typeCode* &lt;= SEQL</tspan></text></g>
<g id="productEvent"><rect class="r" x="684" y="264" width="87" height="43"/><text class="t" x="685.5" y="268.3"><tspan class="h">ProductEvent</tspan><tspan x="685.5" dy="3.6">classCode* &lt;= ACT</tspan><tspan x="685.5" dy="3.4">moodCode* &lt;= EVN</tspan><tspan x="685.5" dy="3.4">code: CD CWE [0..1] &lt;ActProductEventCode&gt;</tspan><tspan x="685.5" dy="3.4">(e.g. product distribution, packaged)</tspan><tspan x="685.5" dy="3.4">text: ST [0..1]</tspan><tspan x="685.5" dy="3.4">effectiveTime: TS [0..1]</tspan></text></g>
<g id="componentOF"><polygon class="p" points="762,253 795,253 795,295 770,295 762,288"/><text class="t" x="764" y="257.3"><tspan class="h" style="font-size:3.5px">componentOF</tspan><tspan x="764" dy="3.6">typeCode* &lt;= COMP</tspan></text><rect x="770" y="288" width="2" height="2" fill="#222"/></g>
<g id="note6"><path class="n" d="M719 290H784L787 293V307H719Z"/><text class="t" x="720.5" y="293.5" style="font-size:2.7px"><tspan style="font-weight:bold">Note:</tspan><tspan x="720.5" dy="3.1">The notion of product event includes production,</tspan><tspan x="720.5" dy="3.1">dispensing, and such more investigation</tspan><tspan x="720.5" dy="3.1">It also includes sub-processes within these.</tspan></text></g>
<g id="transportationEvent"><rect class="r" x="684" y="311" width="88" height="49"/><text class="t" x="685.5" y="315.3"><tspan class="h">TransportationEvent</tspan><tspan x="685.5" dy="3.6">classCode* &lt;= TRNS</tspan><tspan x="685.5" dy="3.4">moodCode* &lt;= EVN</tspan><tspan x="685.5" dy="3.4">code: CD CWE [0..1] &lt;ActCode&gt; - Activity</tspan><tspan x="685.5" dy="3.4">supply chain tax import etc</tspan><tspan x="685.5" dy="3.4">effectiveTime: IVL&lt;TS&gt; [0..1]</tspan><tspan x="685.5" dy="3.4">(Manufacturer Activity Start Date,</tspan><tspan x="685.5" dy="3.4">Shipment Activity Stop Date)</tspan></text></g>
<g id="investigationEvent"><rect class="r" x="684" y="363" width="107" height="37"/><text class="t" x="685.5" y="367.3"><tspan class="h">InvestigationEvent</tspan><tspan x="685.5" dy="3.6">classCode* &lt;= INVSTG</tspan><tspan x="685.5" dy="3.4">moodCode* &lt;= EVN</tspan><tspan x="685.5" dy="3.4">code: CD CWE [0..1] &lt;ActCode&gt;</tspan><tspan x="685.5" dy="3.4">negationInd: BL [0..1]</tspan><tspan x="685.5" dy="3.4">text: ED [0..1]</tspan><tspan x="685.5" dy="3.4">effectiveTime: GTS [0..1]</tspan><tspan x="685.5" dy="3.4">statusCode: CS CNE [0..1] &lt;InvestigationStatus&gt;</tspan></text></g>
<g id="subjectOf6"><polygon class="p" points="795,267 798,262 843,262 843,272 798,272"/><text class="t" x="799" y="265.5"><tspan class="h" style="font-size:3.3px">subjectOf6</tspan><tspan x="799" dy="3.4">typeCode* &lt;= SUBJ</tspan></text></g>
<g id="document3"><rect class="r" x="846" y="253" width="46" height="25"/><text class="t" x="847.5" y="257.3"><tspan class="h">Document3</tspan><tspan x="847.5" dy="3.6">classCode* &lt;= DOC</tspan><tspan x="847.5" dy="3.4">moodCode* &lt;= EVN</tspan><tspan x="847.5" dy="3.4">id: SET&lt;II&gt; [0..1]</tspan><tspan x="847.5" dy="3.4">code: CE CWE [0..1]</tspan><tspan x="847.5" dy="3.4">text: ED [0..1]</tspan></text></g>
<g id="subjectOf8"><polygon class="p" points="795,296 798,292 843,292 843,300 798,300"/><text class="t" x="799" y="295.3"><tspan class="h" style="font-size:3.1px">subjectOf8</tspan><tspan x="799" dy="3.2">typeCode* &lt;= SUBJ</tspan></text></g>
<g id="processDeviation"><rect class="r" x="844" y="282" width="47" height="21"/><text class="t" x="845.5" y="286.3"><tspan class="h" style="font-size:3.5px">ProcessDeviation</tspan><tspan x="845.5" dy="3.6">classCode* &lt;= ACT</tspan><tspan x="845.5" dy="3.4">moodCode* &lt;= EVN</tspan><tspan x="845.5" dy="3.4">code: CD CWE [0..1]</tspan><tspan x="845.5" dy="3.4">text: ED [0..1]</tspan></text></g>
<g id="note7"><path class="n" d="M895 288H930L933 291V303H895Z"/><text class="t" x="896.5" y="291.5" style="font-size:2.7px"><tspan style="font-weight:bold">Note:</tspan><tspan x="896.5" dy="3.1">Performing Lab goes here.</tspan></text></g>
<g id="subjectOf7"><polygon class="p" points="795,328.5 798,322 835,322 835,335 798,335"/><text class="t" x="799" y="326.3"><tspan class="h" style="font-size:3.3px">subjectOf7</tspan><tspan x="799" dy="3.5">typeCode* &lt;= SUBJ</tspan></text></g>
<g id="observationEvent2"><rect class="r" x="835" y="307" width="62" height="28"/><text class="t" x="836.5" y="311.3"><tspan class="h">ObservationEvent2</tspan><tspan x="836.5" dy="3.6">classCode* &lt;= OBS</tspan><tspan x="836.5" dy="3.4">moodCode* &lt;= EVN</tspan><tspan x="836.5" dy="3.4">code: CD CWE [1..1] &lt;ActCode&gt;</tspan><tspan x="836.5" dy="3.4">effectiveTime: GTS [0..1]</tspan><tspan x="836.5" dy="3.4">activityTime: GTS [0..1]</tspan><tspan x="836.5" dy="3.4">value: ANY [0..1] &lt;ObservationValue&gt;</tspan></text></g>
<g id="performer1"><polygon class="c" points="897,323 929,323 932,327.5 929,332 897,332 899,327.5"/><text class="t" x="901" y="328.7"><tspan class="h" style="font-size:3.5px">performer</tspan></text></g>
<g id="note8"><path class="n" d="M932 335H974L977 338V355H932Z"/><text class="t" x="933.5" y="338.5" style="font-size:2.6px"><tspan style="font-weight:bold">Note:</tspan><tspan x="933.5" dy="3">There are differing opinions on</tspan><tspan x="933.5" dy="3">whether clinical participation is</tspan><tspan x="933.5" dy="3">the way in which appropriate is</tspan><tspan x="933.5" dy="3">supported by current V3 tooling.</tspan></text></g>
<g id="origin"><polygon class="c" points="772,340 833,340 836,344.5 833,349 772,349 774,344.5"/><text class="t" x="776" y="343.5"><tspan class="h" style="font-size:3.3px">origin</tspan><tspan x="776" dy="3.4">typeCode* &lt;= ORG</tspan></text></g>
<g id="destination"><polygon class="c" points="772,352 833,352 836,356 833,360 772,360 774,356"/><text class="t" x="776" y="355.3"><tspan class="h" style="font-size:3.3px">destination</tspan><tspan x="776" dy="3.3">typeCode* &lt;= DST</tspan></text></g>
<g id="serviceDeliveryLocation1"><rect class="ly" x="838" y="340" width="46" height="22"/><text class="t" x="839.5" y="344.3"><tspan class="h" style="font-size:3.2px">ServiceDeliveryLocation</tspan></text></g>
<g id="performer2"><polygon class="c" points="795,370 828,370 831,374 828,378 795,378 797,374"/><text class="t" x="799" y="373.3"><tspan class="h" style="font-size:3.3px">performer</tspan><tspan x="799" dy="3.3">typeCode* &lt;= PRF</tspan></text></g>
<g id="serviceDeliveryLocation2"><rect class="y" x="832" y="369" width="56" height="14"/><text class="t" x="833.5" y="373.3"><tspan class="h" style="font-size:3.6px">ServiceDeliveryLocation</tspan><tspan x="833.5" dy="3.5">classCode* &lt;= SDLOC</tspan><tspan x="833.5" dy="3.3">code: CE CWE [0..1] &lt;RoleCode&gt;</tspan></text></g>
<g id="organization6"><rect class="lg" x="910" y="362" width="34" height="21"/><text class="t" x="911.5" y="366.5"><tspan class="h" style="font-size:3.5px">Organization</tspan></text></g>
<g id="place"><rect class="g" x="856" y="389" width="66" height="21"/><text class="t" x="857.5" y="393.3"><tspan class="h">Place</tspan><tspan x="857.5" dy="3.6">classCode* &lt;= PLC</tspan><tspan x="857.5" dy="3.4">determinerCode* &lt;= INSTANCE</tspan><tspan x="857.5" dy="3.4">addr: AD [0..1] (Product Entity Point Ids)</tspan></text></g>
<g id="subjectOF9"><polygon class="c" points="724,400 752,400 752,410 738,415 724,410"/><text class="t" x="726" y="403.8"><tspan class="h" style="font-size:3.3px">subjectOF</tspan><tspan x="726" dy="3.4">typeCode* &lt;= SBJ</tspan></text></g>
<g id="instanceOfKind2"><rect class="y" x="722" y="419" width="33" height="13"/><text class="t" x="723.5" y="423.3"><tspan class="h" style="font-size:3.4px">instanceOfKind2</tspan><tspan x="723.5" dy="3.6">classCode* &lt;= INST</tspan></text></g>
<g id="content2"><rect class="y" x="836" y="428" width="33" height="14"/><text class="t" x="837.5" y="432.3"><tspan class="h">Content2</tspan><tspan x="837.5" dy="3.6">classCode* &lt;= CONT</tspan></text></g>
<g id="subjectOf10"><polygon class="c" points="870,430 934,430 937,434.5 934,439 870,439 872,434.5"/><text class="t" x="874" y="433.5"><tspan class="h" style="font-size:3.3px">subjectOf</tspan><tspan x="874" dy="3.4">typeCode* &lt;= SBJ</tspan></text></g>
<g id="documentEvent3"><rect class="r" x="935" y="427" width="50" height="71"/><text class="t" x="936.5" y="431.3"><tspan class="h" style="font-size:3.6px">DocumentEvent3</tspan><tspan x="936.5" dy="3.6">classCode* &lt;= DOC</tspan><tspan x="936.5" dy="3.4">moodCode* &lt;= EVN</tspan><tspan x="936.5" dy="3.4">id: SET&lt;II&gt; (Product Labels)</tspan><tspan x="936.5" dy="3.4">text: ED (Product Label Text)</tspan></text></g>
<g id="productInstance"><rect class="g" x="704" y="443" width="63" height="41"/><text class="t" x="705.5" y="447.3"><tspan class="h">ProductInstance</tspan><tspan x="705.5" dy="3.6">classCode* &lt;= MMAT</tspan><tspan x="705.5" dy="3.4">determinerCode* &lt;= INSTANCE</tspan><tspan x="705.5" dy="3.4">id: II [0..1]</tspan><tspan x="705.5" dy="3.4">(lot number - serial number for</tspan><tspan x="705.5" dy="3.4">individual product)</tspan><tspan x="705.5" dy="3.4">quantity: PQ [0..1]</tspan><tspan x="705.5" dy="3.4">(for lots, 1 = individual instance)</tspan><tspan x="705.5" dy="3.4">expirationTime: IVL&lt;TS&gt; [0..1]</tspan><tspan x="705.5" dy="3.4">existenceTime: IVL&lt;TS&gt; [0..1]</tspan></text></g>
<g id="deviceInstance"><rect class="g" x="704" y="485" width="63" height="52"/><text class="t" x="705.5" y="489.3"><tspan class="h">DeviceInstance</tspan><tspan x="705.5" dy="3.6">classCode* &lt;= DEV</tspan><tspan x="705.5" dy="3.4">determinerCode* &lt;= INSTANCE</tspan><tspan x="705.5" dy="3.4">id: II [0..1] (Serial number)</tspan><tspan x="705.5" dy="3.4">quantity: PQ [0..1]</tspan><tspan x="705.5" dy="3.4">(for lots, 1 = individual instance)</tspan><tspan x="705.5" dy="3.4">expirationTime: IVL&lt;TS&gt; [0..1]</tspan><tspan x="705.5" dy="3.4">existenceTime: IVL&lt;TS&gt; [0..1]</tspan><tspan x="705.5" dy="3.4">manufacturerModelName: SC</tspan><tspan x="705.5" dy="3.4">CWE [0..1]</tspan><tspan x="705.5" dy="3.4">softwareName: SC CWE [0..1]</tspan><tspan x="705.5" dy="3.4">(software version)</tspan></text></g>
<g id="member"><rect class="y" x="777" y="443" width="34" height="12"/><text class="t" x="778.5" y="447.3"><tspan class="h">Member</tspan><tspan x="778.5" dy="3.6">classCode* &lt;= MBR</tspan></text></g>
<g id="subjectOfM"><polygon class="c" points="811,442 830,442 833,445.5 830,449 811,449 813,445.5"/><text class="t" x="814" y="446.7"><tspan class="h" style="font-size:3px">subjectOf</tspan></text></g>
<g id="member1"><rect class="y" x="777" y="462" width="33" height="11"/><text class="t" x="778.5" y="466.3"><tspan class="h">Member1</tspan><tspan x="778.5" dy="3.5">classCode* &lt;= MBR</tspan></text></g>
<g id="subjectOfM1"><polygon class="c" points="811,458 830,458 833,462.5 830,467 811,467 813,462.5"/><text class="t" x="814" y="463.5"><tspan class="h" style="font-size:3px">subjectOf</tspan></text></g>
<g id="container"><rect class="g" x="839" y="450" width="88" height="27"/><text class="t" x="840.5" y="454.3"><tspan class="h">Container</tspan><tspan x="840.5" dy="3.6">classCode* &lt;= CONT</tspan><tspan x="840.5" dy="3.4">determinerCode* &lt;= INSTANCE</tspan><tspan x="840.5" dy="3.4">code: CE CWE [0..1] (Product in Package Code)</tspan><tspan x="840.5" dy="3.4">formCode: CE CWE [0..1] (Packaging Type)</tspan><tspan x="840.5" dy="3.4">capacityQuantity: PQ [0..1] (Package Capacity)</tspan></text></g>
<g id="content3"><rect class="y" x="861" y="487" width="34" height="12"/><text class="t" x="862.5" y="491.3"><tspan class="h">Content3</tspan><tspan x="862.5" dy="3.6">classCode* &lt;= CONT</tspan></text></g>
<g id="subjectOf11"><polygon class="c" points="896,486 933,486 936,490.5 933,495 896,495 898,490.5"/><text class="t" x="900" y="489.5"><tspan class="h" style="font-size:3.3px">subjectOf</tspan><tspan x="900" dy="3.4">typeCode* &lt;= SBJ</tspan></text></g>
<g id="ingredient1"><rect class="y" x="789" y="497" width="43" height="15"/><text class="t" x="790.5" y="501.3"><tspan class="h">Ingredient1</tspan><tspan x="790.5" dy="3.6">classCode* &lt;= INGR</tspan><tspan x="790.5" dy="3.4">quantity: RTO&lt;PQ,PQ&gt;</tspan></text></g>
<g id="part1"><rect class="y" x="803" y="517" width="33" height="14"/><text class="t" x="804.5" y="521.3"><tspan class="h">Part1</tspan><tspan x="804.5" dy="3.6">classCode* &lt;= PART</tspan></text></g>
<g id="subjectOfP"><polygon class="c" points="836,518 856,518 859,522.5 856,527 836,527 838,522.5"/><text class="t" x="839" y="523.6"><tspan class="h" style="font-size:3px">subjectOf</tspan></text></g>
<g id="instanceOfKind"><rect class="y" x="791" y="542" width="34" height="13"/><text class="t" x="792.5" y="546.3"><tspan class="h" style="font-size:3.5px">InstanceOfKind</tspan><tspan x="792.5" dy="3.6">classCode* &lt;= INST</tspan></text></g>
<g id="materialKind4"><rect class="lg" x="839" y="541" width="34" height="8"/><text class="t" x="840.5" y="546.2"><tspan style="font-weight:bold;font-size:3.4px">MaterialKind</tspan></text></g>
<g id="identification"><rect class="y" x="791" y="558" width="40" height="22"/><text class="t" x="792.5" y="562.3"><tspan class="h">Identification</tspan><tspan x="792.5" dy="3.6">classCode* &lt;= IDENT</tspan><tspan x="792.5" dy="3.4">id: SET&lt;II&gt; [0..1]</tspan><tspan x="792.5" dy="3.4">code: CE CWE [0..1]</tspan><tspan x="792.5" dy="3.4">&lt;RoleCode&gt;</tspan></text></g>
<g id="productInstanceReleaser"><rect class="g" x="848" y="553" width="49" height="21"/><text class="t" x="849.5" y="557.3"><tspan class="h" style="font-size:3.2px">ProductInstanceReleaser</tspan><tspan x="849.5" dy="3.6">classCode* &lt;= ORG</tspan><tspan x="849.5" dy="3.4">determinerCode* &lt;= INSTANCE</tspan><tspan x="849.5" dy="3.4">id: SET&lt;II&gt; [0..1]</tspan><tspan x="849.5" dy="3.4">name: ON [0..1]</tspan></text></g>
</svg>
